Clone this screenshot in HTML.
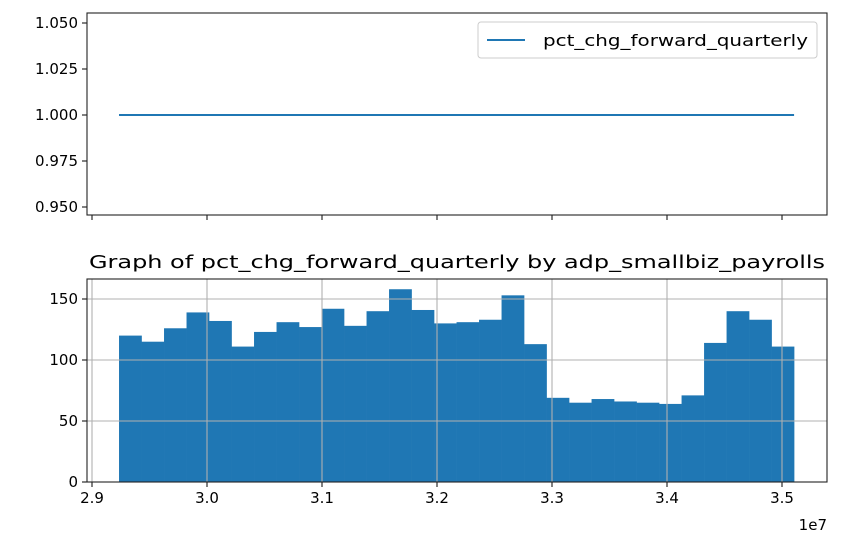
<!DOCTYPE html>
<html><head><meta charset="utf-8"><style>
body{margin:0;background:#fff;}
svg{display:block;font-family:"DejaVu Sans","Liberation Sans",sans-serif;}
</style></head><body>
<svg id="chart" width="842" height="554" viewBox="0 0 842 554" xmlns="http://www.w3.org/2000/svg">
<rect width="842" height="554" fill="#fff"/>
<g id="topPanel"></g>
<g id="botPanel"></g>
</svg>
<script>
const binStart = 2.9235e7;
const binEnd = 3.5105e7;
const counts = [120,115,126,139,132,111,123,131,127,142,128,140,158,141,130,131,133,153,113,69,65,68,66,65,64,71,114,140,133,111];
const xTicks = [2.9e7,3.0e7,3.1e7,3.2e7,3.3e7,3.4e7,3.5e7];
const xTickLabels = ["2.9","3.0","3.1","3.2","3.3","3.4","3.5"];
const yTicksBot = [0,50,100,150];
const yTicksTop = [0.950,0.975,1.000,1.025,1.050];
const lineValue = 1.0;

const NS="http://www.w3.org/2000/svg";
function mk(parent,tag,attrs,text){const e=document.createElementNS(NS,tag);for(const k in attrs)e.setAttribute(k,attrs[k]);if(text!==undefined)e.textContent=text;parent.appendChild(e);return e;}
const L=87,R=827;
const xs=v=>207+(v-3.0e7)/0.1e7*115;
const bT=279,bB=482;
const ys=v=>bB-v*1.22;
const botG=document.getElementById('botPanel');
const bw=(binEnd-binStart)/counts.length;
counts.forEach((c,i)=>{
  const x0=xs(binStart+i*bw),x1=xs(binStart+(i+1)*bw);
  const r=mk(botG,'rect',{x:x0,y:ys(c),width:x1-x0+0.3,height:bB-ys(c),fill:'#1f77b4'});
  
  
});
xTicks.forEach((t,i)=>{
  const g=mk(botG,'line',{x1:xs(t),x2:xs(t),y1:bT,y2:bB,stroke:'#b0b0b0','stroke-width':1.1});
  
  
  mk(botG,'line',{x1:xs(t),x2:xs(t),y1:bB,y2:bB+5,stroke:'#000','stroke-width':1});
  const tl=mk(botG,'text',{x:xs(t),y:bB+21,'text-anchor':'middle','font-size':15},xTickLabels[i]);
  
  
});
yTicksBot.forEach(t=>{
  if(t>0){const g=mk(botG,'line',{x1:L,x2:R,y1:ys(t),y2:ys(t),stroke:'#b0b0b0','stroke-width':1.1});
  
  }
  mk(botG,'line',{x1:L-5,x2:L,y1:ys(t),y2:ys(t),stroke:'#000'});
  const tl=mk(botG,'text',{x:L-9,y:ys(t)+5,'text-anchor':'end','font-size':15},String(t));
  
  
});
mk(botG,'rect',{x:L,y:bT,width:R-L,height:bB-bT,fill:'none',stroke:'#222','stroke-width':1.1});
const ttl=mk(botG,'text',{x:89,y:268,'font-size':18,textLength:736,lengthAdjust:'spacingAndGlyphs'},'Graph of pct_chg_forward_quarterly by adp_smallbiz_payrolls');


const off=mk(botG,'text',{x:827,y:530,'text-anchor':'end','font-size':15},'1e7');


const tT=13,tB=215;
const yt=v=>115-(v-1.0)/0.025*46;
const topG=document.getElementById('topPanel');
yTicksTop.forEach(t=>{
  mk(topG,'line',{x1:L-5,x2:L,y1:yt(t),y2:yt(t),stroke:'#000'});
  const tl=mk(topG,'text',{x:L-9,y:yt(t)+5,'text-anchor':'end','font-size':15},t.toFixed(3));
  
  
});
xTicks.forEach(t=>mk(topG,'line',{x1:xs(t),x2:xs(t),y1:tB,y2:tB+5,stroke:'#000'}));
const ln=mk(topG,'line',{x1:xs(binStart),x2:xs(binEnd),y1:yt(lineValue),y2:yt(lineValue),stroke:'#1f77b4','stroke-width':2});


mk(topG,'rect',{x:L,y:tT,width:R-L,height:tB-tT,fill:'none',stroke:'#222','stroke-width':1.1});
const lg=mk(topG,'g',{});


mk(lg,'rect',{x:478,y:22,width:339,height:36,rx:3,fill:'#fff',stroke:'#ccc'});
mk(lg,'line',{x1:487,x2:525,y1:40,y2:40,stroke:'#1f77b4','stroke-width':2});
mk(lg,'text',{x:543,y:46,'font-size':16,textLength:265,lengthAdjust:'spacingAndGlyphs'},'pct_chg_forward_quarterly');
</script>
</body></html>
